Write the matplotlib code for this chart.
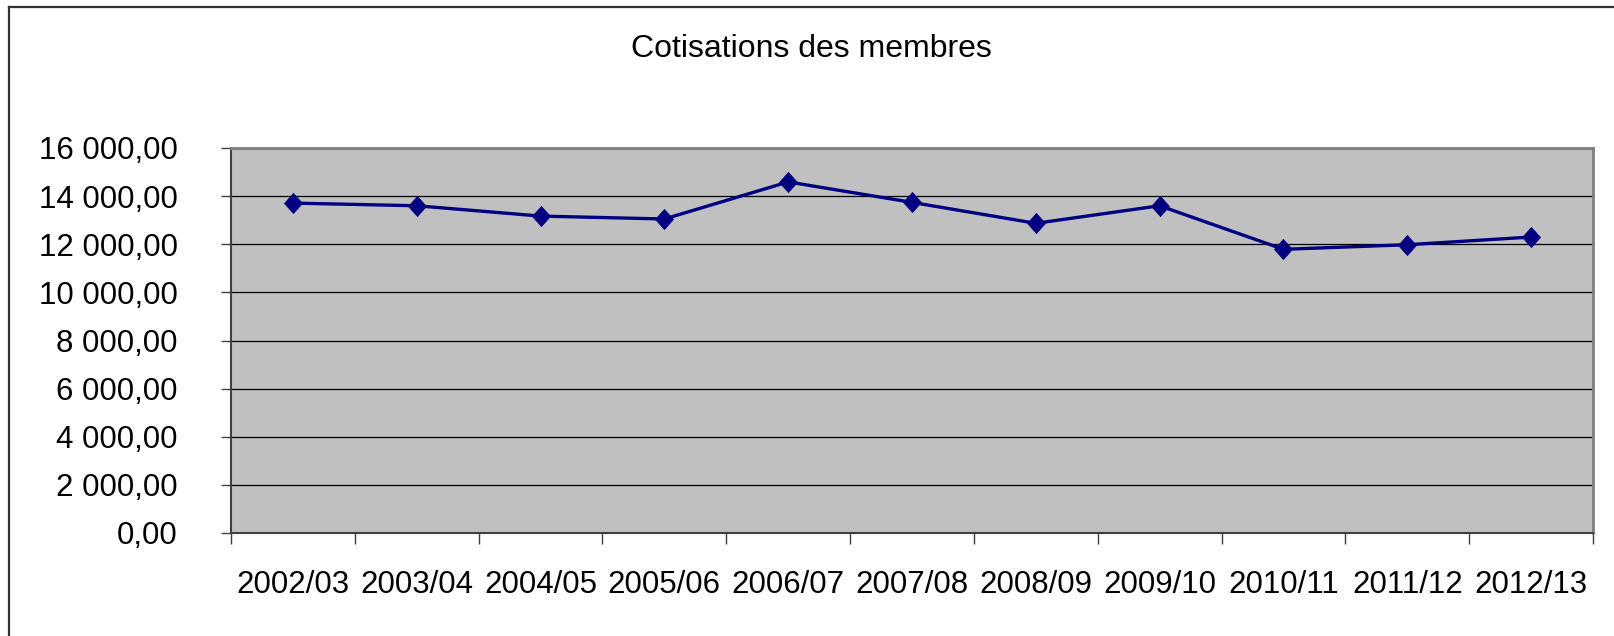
import matplotlib
matplotlib.use("Agg")
import matplotlib.pyplot as plt
from matplotlib.lines import Line2D

categories = ["2002/03", "2003/04", "2004/05", "2005/06", "2006/07", "2007/08",
              "2008/09", "2009/10", "2010/11", "2011/12", "2012/13"]
values = [13710, 13600, 13170, 13050, 14590, 13740, 12870, 13600, 11790, 11980, 12300]
y_ticks = [0, 2000, 4000, 6000, 8000, 10000, 12000, 14000, 16000]
y_tick_labels = ["0,00", "2 000,00", "4 000,00", "6 000,00", "8 000,00",
                 "10 000,00", "12 000,00", "14 000,00", "16 000,00"]
title = "Cotisations des membres"

plt.rcParams['font.family'] = ['Liberation Sans', 'DejaVu Sans']

W, H = 1614, 636
fig = plt.figure(figsize=(W / 100, H / 100), dpi=100)
fig.patch.set_facecolor("white")

ax = fig.add_axes([231 / W, 1 - 533 / H, (1593 - 231) / W, (533 - 148) / H])
ax.set_facecolor("#C0C0C0")

diamond = [(0, 1), (0.9, 0), (0, -1), (-0.9, 0), (0, 1)]
x = list(range(len(categories)))
ax.plot(x, values, color="#000080", linewidth=2.4, marker=diamond, markersize=14.5,
        markerfacecolor="#000080", markeredgecolor="#000080", markeredgewidth=0.5,
        zorder=3)

ax.set_xlim(-0.5, len(categories) - 0.5)
ax.set_ylim(0, 16000)

ax.set_yticks(y_ticks)
ax.set_yticklabels(y_tick_labels)
ax.set_xticks(x)
ax.set_xticklabels(categories)
ax.set_xticks([i - 0.5 for i in range(len(categories) + 1)], minor=True)

ax.tick_params(axis="y", which="major", direction="out", length=7.5, width=1,
               color="#404040", labelsize=22.5, pad=30.7)
ax.tick_params(axis="x", which="major", length=0, labelsize=22.5, pad=26.6)
ax.tick_params(axis="x", which="minor", direction="out", length=8, width=1,
               color="#404040")

ax.yaxis.grid(True, color="black", linewidth=0.9)
ax.set_axisbelow(True)

for side in ["left", "bottom"]:
    ax.spines[side].set_color("#404040")
    ax.spines[side].set_linewidth(1.5)
for side in ["top", "right"]:
    ax.spines[side].set_color("#808080")
    ax.spines[side].set_linewidth(2)

fig.text(811 / W, 1 - 57.3 / H, title, ha="center", va="baseline", fontsize=23)

# outer chart frame (left and top edges visible)
fig.add_artist(Line2D([9 / W, 9 / W], [0, 1 - 7 / H], transform=fig.transFigure,
                      color="#333333", linewidth=1.6))
fig.add_artist(Line2D([9 / W, 1], [1 - 7 / H, 1 - 7 / H], transform=fig.transFigure,
                      color="#333333", linewidth=1.6))

fig.savefig("out.png", dpi=100)
